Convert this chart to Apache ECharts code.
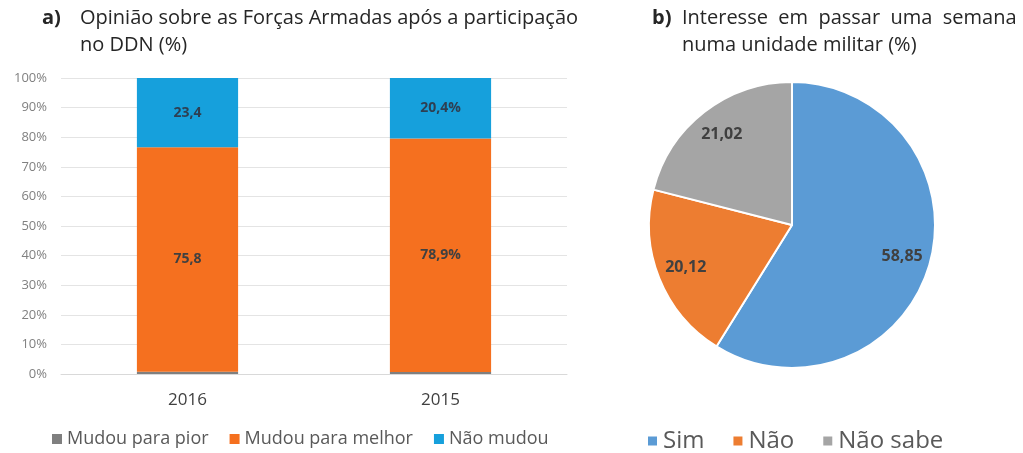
<!DOCTYPE html>
<html lang="pt">
<head>
    <meta charset="UTF-8">
    <title>DDN</title>
    <script type="text/javascript" src="https://cdn.jsdelivr.net/npm/echarts@6/dist/echarts.min.js"></script>
    <style>
        html, body { margin: 0; padding: 0; background: #fff; }
    </style>
</head>
<body>
<div id="main" style="width: 1023px;height:453px;"></div>
<script type="text/javascript">
    // dados do gráfico a)
    var anos = ['2016', '2015'];
    var pior = [0.8, 0.7];
    var melhor = [75.8, 78.9];
    var naoMudou = [23.4, 20.4];
    var sufixo = ['', '%'];
    var yTicks = [0, 10, 20, 30, 40, 50, 60, 70, 80, 90, 100];

    // dados do gráfico b)
    var pieNomes = ['Sim', 'Não', 'Não sabe'];
    var pieValores = [58.85, 20.12, 21.02];
    var pieCores = ['#5b9bd5', '#ed7d31', '#a5a5a5'];

    var fonte = '"Open Sans", "Noto Sans", sans-serif';

    function rotulo(p) {
        return String(p.value).replace('.', ',') + sufixo[p.dataIndex];
    }

    var pieData = pieNomes.map(function (n, i) {
        return { name: n, value: pieValores[i], itemStyle: { color: pieCores[i] } };
    });

    var estiloTitulo = { fontSize: 20, fontWeight: 'normal', color: '#262626', lineHeight: 27, fontFamily: fonte };
    var estiloLetra = { fontSize: 20, fontWeight: 'bold', color: '#262626', lineHeight: 27, fontFamily: fonte };

    var option = {
        animation: false,
        textStyle: { fontFamily: fonte },
        title: [
            { text: 'a)', left: 42, top: 5, padding: 0, textStyle: estiloLetra },
            { text: 'Opinião sobre as Forças Armadas após a participação\nno DDN (%)', left: 80, top: 5, padding: 0, textStyle: estiloTitulo },
            { text: 'b)', left: 652, top: 5, padding: 0, textStyle: estiloLetra },
            // espaços duplos imitam o texto justificado do original
            { text: 'Interesse  em  passar  uma  semana\nnuma unidade militar (%)', left: 682, top: 5, padding: 0, textStyle: estiloTitulo }
        ],
        legend: [
            {
                data: ['Mudou para pior', 'Mudou para melhor', 'Não mudou'],
                left: 52, top: 430, padding: 0, itemWidth: 10, itemHeight: 10, itemGap: 21,
                icon: 'rect',
                textStyle: { fontSize: 18, color: '#595959', fontFamily: fonte }
            },
            {
                data: pieNomes,
                left: 646, top: 429, padding: 0, itemWidth: 11, itemHeight: 11, itemGap: 27,
                icon: 'rect',
                textStyle: { fontSize: 24, color: '#595959', fontFamily: fonte }
            }
        ],
        grid: { left: 61, right: 456, top: 78, bottom: 79 },
        xAxis: {
            type: 'category',
            data: anos,
            axisTick: { show: false },
            axisLine: { lineStyle: { color: '#d9d9d9' } },
            axisLabel: { fontSize: 17, color: '#404040', margin: 18, fontFamily: fonte }
        },
        yAxis: {
            type: 'value',
            min: 0, max: 100, interval: 10,
            axisLabel: {
                fontSize: 13, color: '#808080', margin: 14, fontFamily: fonte,
                formatter: function (v) { return yTicks.indexOf(v) >= 0 ? v + '%' : ''; }
            },
            splitLine: { lineStyle: { color: '#e4e4e4' } }
        },
        series: [
            {
                name: 'Mudou para pior', type: 'bar', stack: 'a', barWidth: '40%',
                data: pior, itemStyle: { color: '#7f7f7f' }
            },
            {
                name: 'Mudou para melhor', type: 'bar', stack: 'a',
                data: melhor, itemStyle: { color: '#f5701f' },
                label: { show: true, position: 'inside', formatter: rotulo, fontSize: 14, fontWeight: 'bold', color: '#404040', fontFamily: fonte }
            },
            {
                name: 'Não mudou', type: 'bar', stack: 'a',
                data: naoMudou, itemStyle: { color: '#16a0dc' },
                label: { show: true, position: 'inside', formatter: rotulo, fontSize: 14, fontWeight: 'bold', color: '#2e3f52', fontFamily: fonte }
            },
            {
                type: 'pie', center: [792, 225], radius: [0, 143], startAngle: 90,
                data: pieData,
                itemStyle: { borderColor: '#fff', borderWidth: 2 },
                label: { show: false }, labelLine: { show: false }
            },
            {
                // camada transparente só para posicionar os rótulos
                type: 'pie', center: [792, 225], radius: [80, 143], startAngle: 90,
                silent: true, legendHoverLink: false,
                data: pieData.map(function (d) {
                    return { name: d.name + ' ', value: d.value, itemStyle: { color: 'rgba(0,0,0,0)' } };
                }),
                label: {
                    show: true, position: 'inside', fontSize: 16, fontWeight: 'bold', color: '#404040', fontFamily: fonte,
                    formatter: function (p) { return String(p.value).replace('.', ','); }
                },
                labelLine: { show: false }
            }
        ]
    };

    var myChart = echarts.init(document.getElementById('main'));
    myChart.setOption(option);
</script>
</body>
</html>
